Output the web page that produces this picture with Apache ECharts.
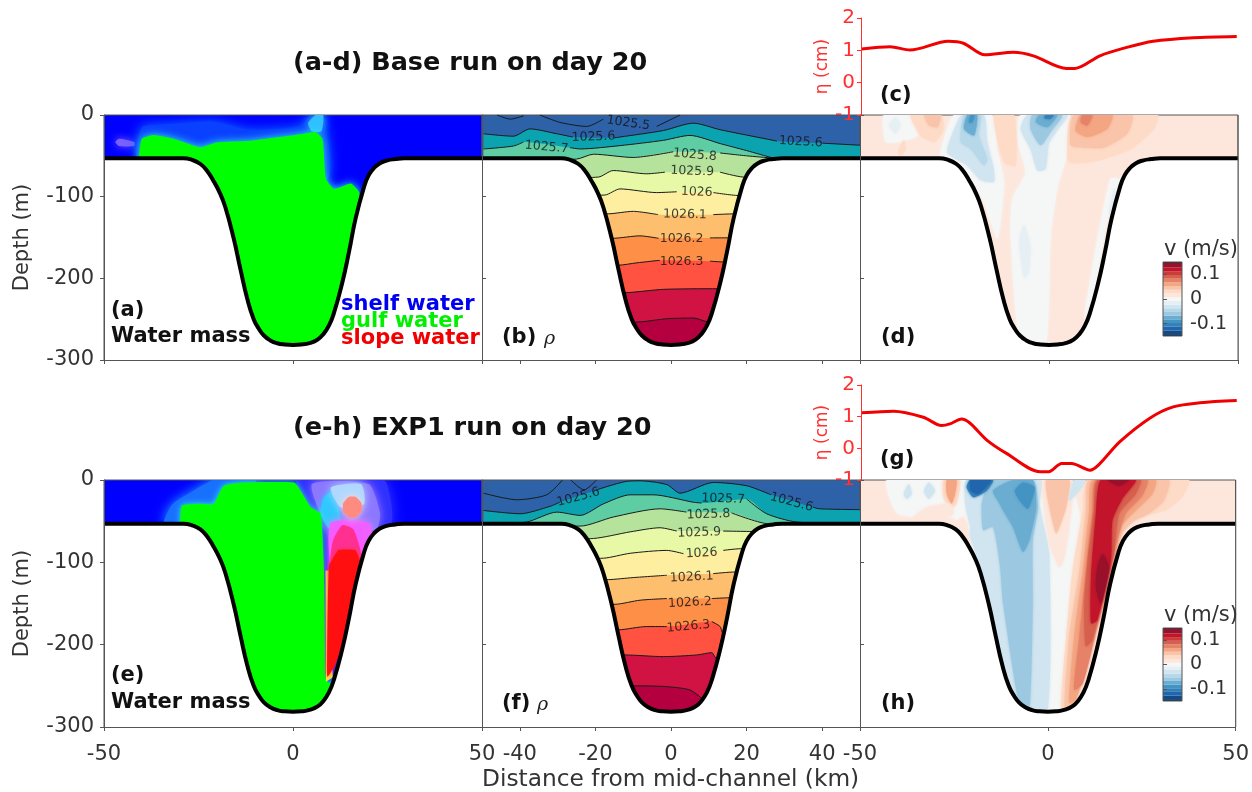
<!DOCTYPE html>
<html>
<head>
<meta charset="utf-8">
<title>Base run and EXP1 run on day 20</title>
<style>
  html, body { margin: 0; padding: 0; background: #fff; }
  #chart { width: 1252px; height: 792px; }
</style>
<script src="https://cdn.jsdelivr.net/npm/echarts@6/dist/echarts.min.js"></script>
</head>
<body>
<div id="chart"></div>
<script>
// channel bottom, [km, depth m]
const bathy = [[-50,53],[-29,53],[-26.7,55],[-24.5,60],[-22.8,68],[-21,81],[-19.4,95],[-17.9,113],[-15.7,151],[-13.9,189],[-12.1,225],[-10.4,250],[-9,262],[-7.7,270],[-6,276],[-4.2,279.5],[-2.2,281],[0,281.5],[2.2,281],[4.6,279],[6.5,275],[8.1,268],[9.5,258],[10.8,243],[13,206],[14.8,168],[16.6,126],[18.8,88],[20,74],[21.4,65],[23,59],[25,55.5],[27,54],[29.4,53],[50,53]];

// surface elevation, [km, cm]
const etaBase = [[-49.8,1.04],[-42.3,1.11],[-37,1.01],[-26.9,1.28],[-22.9,1.22],[-17.2,0.86],[-9.7,0.94],[-4.4,0.83],[4.4,0.44],[6.6,0.44],[13.2,0.83],[20.3,1.09],[27.3,1.28],[37.9,1.39],[49.4,1.43]];
const etaExp1 = [[-49.8,1.12],[-41.4,1.17],[-33.5,0.98],[-28.7,0.72],[-26.5,0.77],[-23.4,0.93],[-21.2,0.8],[-16.8,0.27],[-11.5,-0.16],[-2.6,-0.74],[-0.4,-0.74],[3.1,-0.48],[5.7,-0.48],[10.6,-0.69],[12.8,-0.53],[18.5,0.21],[26.5,0.96],[32.6,1.31],[39.7,1.44],[49.4,1.51]];

// density contours, [km, depth m], null = gap for the inline label
const rhoB25_5 = [[-46,0],[-42.5,5],[-39,1],null,[-34.7,0],[-29.4,9],[-22.3,14],[-17.9,5],null,[-3.8,14],[2.4,0]];
const rhoB25_6 = [[-49.6,23],[-41.7,26],[-37.3,17],[-30.2,23],[-26,27],null,[-15,28],[-13.5,27],[-2,19],[5.9,10],[13,18],[27,31],[28,32],null,[40,34.5],[50,37]];
const rhoB25_7 = [[-49.6,41.6],[-41.7,38],[-39,33],null,[-26.7,40],[-24,41.6],[-13.5,37.5],[-2,31],[5,25],[13,35],[20,43.6],[27,52.6],[28.8,53.5],[50,54]];
const rhoB25_8 = [[-50,56],[-25,54],[-20.5,48],[-10,52],[0.6,45],null,[13,46.5],[20,50],[27,52.6],[50,56]];
const rhoB25_9 = [[-50,80],[-19.2,76],[-15.3,68],[-6.4,72],[-1.6,70],null,[13,70],[19.1,76],[50,80]];
const rhoB26_0 = [[-50,100],[-17.5,98],[-13.5,90.5],[-3.8,95],[1.5,94],null,[11.2,95],[17.8,98.6],[50,100]];
const rhoB26_1 = [[-50,122],[-16.6,121],[-10,118],[-3.4,122],null,[11.2,122],[17,121],[50,122]];
const rhoB26_2 = [[-50,152],[-15.3,151],[-8.2,148],[-3.3,151],null,[10.3,150.5],[15.6,150.4],[50,150]];
const rhoB26_3 = [[-50,185],[-14,184],[-9,181],[-3,178],null,[10.3,179],[14.3,180],[50,180]];
const rhoB26_4 = [[-50,218],[-12.4,217.6],[-2,213.5],[12.5,212.7],[50,213]];
const rhoB26_5 = [[-50,254],[-9,253.5],[-1,249.4],[6,248.6],[10,253.5],[50,254]];

const rhoF25_5 = [[-49.6,16],[-40.8,24],[-32.9,18],[-28.7,0],null,[-26.5,0],[-23,12],[-19.7,0]];
const rhoF25_6 = [[-49.6,37],[-39.9,41],[-32,32],[-29.4,27],null,[-19.7,12],[-11.7,1.6],[-8.2,1],[-1.1,5.6],[2.4,16],[11.2,3],[20,7],[26.5,18],null,[37.5,33],[39.4,35],[50,36]];
const rhoF25_7 = [[-50,54],[-38.2,51],[-30.2,39],[-24,43],[-17.9,29],[-10.8,18],[-4.7,18],[5.9,27],[8.1,28],null,[20,23],[25.3,41],[33.2,51],[50,54]];
const rhoF25_8 = [[-50,56],[-24,56],[-15.3,45],[-2.9,35],[4.1,39],null,[16,40],[25.3,53],[50,56]];
const rhoF25_9 = [[-50,75],[-20.5,71],[-10.8,63],[-2.9,58],[1.5,62],null,[13.8,62],[20,62.5],[50,65]];
const rhoF26_0 = [[-50,98],[-17.9,95],[-10.8,89],[-1.1,85.5],[3.3,89.5],null,[13.8,85.5],[18.3,83.5],[50,84]];
const rhoF26_1 = [[-50,122],[-16.6,121],[-10,118.5],[-1.1,115.7],null,[11.2,113.7],[16.9,111.7],[50,112]];
const rhoF26_2 = [[-50,152],[-14.8,151],[-8.2,146],[-1.1,144],null,[10.8,144],[16,143],[50,145]];
const rhoF26_3 = [[-50,184],[-13.9,182],[-6.4,178],[-1.1,178],null,[10.8,172],[13,178],[13.8,186],[50,190]];
const rhoF26_4 = [[-50,214],[-12.2,212.5],[-2,214.5],[6.8,212.5],[10.8,209.7],[12,216.5],[50,220]];
const rhoF26_5 = [[-50,252],[-9,250],[-1.1,251],[5,255],[8.1,265],[12,280],[50,290]];

// inline contour labels
const rhoBLabels = ['1025.5','1025.6','1025.6','1025.7','1025.8','1025.9','1026','1026.1','1026.2','1026.3'];
const rhoBLabelAt = [[-11.3,10],[-20.5,27],[34.3,33],[-32.9,39.5],[6.3,49],[5.6,69],[6.8,94.5],[3.7,122],[2.8,151],[2.8,180]];
const rhoFLabels = ['1025.6','1025.7','1025.6','1025.8','1025.9','1026','1026.1','1026.2','1026.3'];
const rhoFLabelAt = [[-24.5,21],[13.8,23],[31.9,27],[9.9,42],[7.5,64],[8.1,89],[5.5,118],[5,149],[4.6,178]];

// water mass regions, [km, depth m]
const waterAGlow = [[-41,53],[-40,15],[-35,12],[-21,8],[-12,18],[2,14],[5,0],[8,0],[9,78],[-20,80]];
const waterAGreen = [[-40.8,52],[-40,29],[-36.9,24.4],[-31.6,29],[-24.5,39.5],[-20,33.4],[-11.2,31.4],[2.9,23],[6,21],[7.8,29],[8.7,78],[10.9,90.5],[15.3,84],[17.5,94.5],[17.5,115],[14,300],[-20,300],[-40.8,60]];
const waterASpot = [[4,10],[6,0],[8,0],[7.5,20],[5,20]];
const waterAPink = [[-47,33],[-46,29],[-42,33],[-42,38],[-46,38]];
const waterELeft = [[-34,53],[-32,30],[-27,15],[-21,0],[-10,0],[-10,50]];
const waterEHalo = [[1,0],[24,0],[26,29],[26,53],[16,110],[8,60]];
const waterEViolet = [[5,5],[20,5],[23,40],[22,60],[10,60]];
const waterECyan = [[8.2,21],[10.9,13],[12.6,53],[10,61],[7.3,41]];
const waterEPale = [[10,9],[18,5],[18.8,29],[12.6,33]];
const waterEGreen = [[-29.8,53],[-29.4,31],[-25.4,29],[-21,29],[-18.3,7],[-13,3],[0.3,3],[2,13],[4.7,33],[7.3,41],[8.2,110],[8.7,243],[10,247],[15,200],[8,285],[-30,285]];
const waterEYellow = [[8.6,110],[8.7,245],[10.5,240],[10,110]];
const waterEMagenta = [[10,52],[20,52],[21,75],[17,115],[10.5,115]];
const waterEPink = [[10.5,75],[13,55],[16,60],[18,90],[17,115],[10,115]];
const waterERed = [[9.5,105],[9.1,239],[10.9,227],[12.6,206],[15.3,158],[18,102],[16.5,85],[12,85]];
const waterESalmon = [[13.2,33],[14,24],[15.7,20],[17.4,24],[18.2,33],[17.4,42],[15.7,46],[14,42]];

// velocity regions, [level m/s, [km, depth m]...]
const velBase = [
  [0, [[-7.5,0],[5.7,0],[4.9,46],[2.2,90],[0.4,152],[-0.9,282],[-7.5,282],[-10.1,152],[-9.7,103],[-6.2,70],[-8.4,29]]],
  [0, [[-28.7,54],[-27.8,29],[-25.1,0],[-15,0],[-13.7,42],[-11.9,82],[-12.8,131],[-13.7,152],[-17.6,103],[-21.6,74]]],
  [0, [[-43.2,33],[-43.7,0],[-36.6,0],[-34.8,25],[-40,33]]],
  [0, [[9.3,249],[12.8,152],[16.3,78],[19,80],[15.4,131],[11.9,217]]],
  [-0.015, [[-42.3,13],[-40.6,3],[-39.2,13],[-40.6,23]]],
  [-0.015, [[15.9,119],[17.2,90],[17.9,95],[16.3,127]]],
  [-0.015, [[-7.9,152],[-6.6,135],[-4.9,160],[-5.3,192],[-6.6,200]]],
  [0.03, [[-40,46],[-38.4,31],[-37.9,42],[-39.2,50]]],
  [0.03, [[-14.6,0],[-9.3,0],[-8.8,62],[-11.9,58]]],
  [0.03, [[-36.6,0],[-28.7,0],[-27.8,17],[-30.4,33],[-34,25]]],
  [0.045, [[-33,0],[-28.7,0],[-29.5,15],[-31.7,13]]],
  [-0.03, [[-26.9,46],[-24.3,9],[-23,0],[-17.2,0],[-16.3,33],[-14.6,66],[-14.6,82],[-18,80],[-21.6,62]]],
  [-0.045, [[-23.4,33],[-22.5,0],[-18,0],[-18.5,25],[-16.3,54],[-17.2,62],[-20.7,42]]],
  [-0.075, [[-22.5,17],[-21.6,0],[-19,0],[-19.8,25]]],
  [-0.09, [[-21.2,9],[-20.7,0],[-19.7,0],[-20.3,9]]],
  [-0.03, [[-7.5,17],[-5.7,0],[4.9,0],[2.2,19],[0,35],[-0.9,66],[-3.1,68],[-4.9,42]]],
  [-0.06, [[-4.9,17],[-4.4,0],[3.5,0],[0.4,21],[-2.2,37]]],
  [-0.075, [[-3.5,9],[-2.6,0],[2.2,0],[-0.4,15]]],
  [-0.105, [[-1.3,4],[-0.9,0],[1.3,0],[0.3,5]]],
  [0.03, [[5.3,58],[4.9,29],[6.2,0],[28.7,0],[27.8,17],[21.6,42],[12.8,56]]],
  [0.045, [[5.7,37],[6.6,0],[22,0],[20.7,23],[14.6,40],[9.3,40]]],
  [0.06, [[7,19],[8.4,0],[16.8,0],[15.4,17],[10.1,27]]],
  [0.075, [[8.4,9],[8.8,0],[11.5,0],[10.1,13]]]
];
const velExp1 = [
  [0, [[-42.8,0],[-21.6,0],[-21.2,49],[-25.1,45],[-34.8,45],[-40,41],[-41.9,25]]],
  [0, [[-21.2,57],[-25.1,45],[-21.6,0],[4.9,0],[10.1,90],[8.4,190],[4.9,279],[-11,279],[-16.3,150],[-19.8,98]]],
  [-0.03, [[-20.7,57],[-22,29],[-21.6,0],[-1.8,0],[-2.2,29],[0.4,90],[0,279],[-5.7,279],[-11,255],[-15.4,150],[-18.5,98],[-20.7,69]]],
  [-0.06, [[-17.2,61],[-17.6,29],[-16.3,9],[-14.6,0],[-4,0],[-2.6,33],[-4,73],[-4,150],[-4.9,279],[-7.5,275],[-11.9,150],[-12.8,102],[-14.6,57]]],
  [-0.075, [[-12.8,29],[-14.6,13],[-9.3,0],[-4,0],[-3.1,33],[-4.9,73],[-6.6,87.5],[-9.3,57],[-11.9,37]]],
  [-0.09, [[-8.8,13],[-6.6,3],[-3.5,9],[-5.3,35],[-7.5,25]]],
  [-0.105, [[-21.6,9],[-20.7,0],[-14.6,0],[-16.3,13],[-19.8,21]]],
  [-0.12, [[-20.5,0],[-15,0],[-18.5,17],[-20.5,13]]],
  [-0.03, [[-38.4,17],[-37,5],[-36.2,17],[-37.5,23]]],
  [-0.03, [[-33,13],[-31.7,3],[-30,13],[-31.7,23]]],
  [0.03, [[-27.8,21],[-27.8,0],[-23.4,0],[-24.3,29],[-26,35]]],
  [0.06, [[-26.9,17],[-26.9,0],[-24.3,0],[-24.7,17],[-25.6,29]]],
  [0.015, [[-36.6,49],[-32.2,33],[-26,29],[-25.1,41],[-30.4,51]]],
  [0.015, [[-24.3,51],[-22.5,45],[-21.2,57]]],
  [0.015, [[-1.3,0],[6.6,0],[5.7,57],[4.4,94],[3.1,106],[0.4,77]]],
  [0.045, [[-0.4,0],[5.7,0],[4.9,33],[3.1,57],[2.2,65],[0.4,33]]],
  [-0.03, [[5.7,25],[7,0],[10.1,0],[8.4,13]]],
  [0.03, [[37.5,0],[35.7,21],[31.3,37],[24.3,45],[19.8,67],[16.8,118],[12.3,190],[8.4,255],[5.7,279],[3.5,279],[4.9,190],[6.6,110],[9.3,37],[10.6,0]]],
  [0.045, [[32.2,0],[30.9,25],[26.9,41],[22.5,51],[19.8,65],[16.8,118],[12.3,190],[8.4,255],[5.7,279],[4.4,279],[5.7,190],[8.4,110],[10.1,37],[11,0]]],
  [0.06, [[28.7,0],[27.8,17],[24.3,33],[19.8,55],[17.2,110],[11.9,198],[7.5,267],[5.7,271],[7,190],[9.3,110],[11,37],[11.9,0]]],
  [0.075, [[26.5,0],[25.1,19],[20.7,41],[18,81],[11.9,202],[9.3,247],[7,255],[8.4,190],[10.1,114],[11.9,37],[12.8,0]]],
  [0.09, [[24.7,0],[23.4,17],[19,41],[17.6,90],[11.9,194],[10.1,202],[9.7,150],[10.6,98],[12.3,37],[13.2,0]]],
  [0.12, [[23.4,0],[19.8,23],[17.2,49],[16.8,98],[13.2,170],[11.5,174],[11.5,118],[12.8,41],[14.1,0]]],
  [0.135, [[15.9,0],[19,7],[21.6,0]]],
  [0.135, [[14.6,90],[16.3,106],[14.1,150],[12.8,130],[13.2,106]]]
];

// RdBu colour bar bands
const vLevels = [-0.15,-0.135,-0.12,-0.105,-0.09,-0.075,-0.06,-0.045,-0.03,-0.015,0,0.015,0.03,0.045,0.06,0.075,0.09,0.105,0.12,0.135,0.15];
const vColors = ['#053061','#134b87','#2166ac','#3480b9','#4393c3','#6bacd1','#9cc9e1','#b7d8e9','#d1e5f0','#e6eff4','#f5f6f6','#fde7dd','#fddbc7','#f9c4a9','#f4a582','#e58268','#d6604d','#cb3b3b','#c2152c','#98102a','#67001f'];
const rhoColors = ['#2d62a9','#0ba3b0','#5fcda4','#b6e39b','#e7f8a6','#fdeea0','#fdbe6e','#fe8f47','#ff5240','#d01343','#b50040'];

const font = 'DejaVu Sans';
const axisGray = '#555';
const textGray = '#333';

const panel = (left, top) => ({ left, top, width: 378, height: 245, show: true, borderColor: axisGray, borderWidth: 1 });
const grids = [
  { ...panel(104, 115), backgroundColor: '#0000ff' },
  { ...panel(482, 115), backgroundColor: rhoColors[0] },
  { ...panel(860, 115), backgroundColor: vColors[11] },
  { ...panel(104, 480), height: 247, backgroundColor: '#0000ff' },
  { ...panel(482, 480), height: 247, backgroundColor: rhoColors[0] },
  { ...panel(860, 480), height: 247, backgroundColor: vColors[11] },
  { left: 861, top: 18, width: 378, height: 97 },
  { left: 861, top: 385, width: 378, height: 95 },
  { left: 1163, top: 262, width: 19, height: 74 },
  { left: 1163, top: 628, width: 19, height: 73 }
];

const xTicksEnds = [-50, 0, 50];
const xTicksMid = [-40, -20, 0, 20, 40];
const xAxis = grids.map((g, i) => {
  if (i >= 6) return { type: 'value', gridIndex: i, min: i >= 8 ? 0 : -50, max: i >= 8 ? 1 : 50, show: false };
  const ticks = i % 3 === 1 ? xTicksMid : xTicksEnds;
  return {
    type: 'value', gridIndex: i, min: -50, max: 50, z: 10, splitLine: { show: false },
    axisLine: { show: true, onZero: false, lineStyle: { color: axisGray } },
    axisTick: { show: true, length: 4, customValues: ticks, lineStyle: { color: axisGray } },
    axisLabel: { show: i >= 3, customValues: ticks, fontFamily: font, fontSize: 21, color: textGray, margin: 17, hideOverlap: false }
  };
});
const yAxis = grids.map((g, i) => {
  if (i < 6) return {
    type: 'value', gridIndex: i, min: -300, max: 0, interval: 100, z: 10, splitLine: { show: false },
    name: i % 3 === 0 ? 'Depth (m)' : '', nameLocation: 'middle', nameGap: 71, nameRotate: 90,
    nameTextStyle: { color: textGray, fontFamily: font, fontSize: 21 },
    axisLine: { show: true, onZero: false, lineStyle: { color: axisGray } },
    axisTick: { show: true, length: 4, inside: i % 3 !== 0, lineStyle: { color: axisGray } },
    axisLabel: { show: i % 3 === 0, fontFamily: font, fontSize: 21, color: textGray, margin: 10 }
  };
  if (i < 8) return {
    type: 'value', gridIndex: i, min: -1, max: 2, interval: 1, z: 20, splitLine: { show: false },
    name: 'η (cm)', nameLocation: 'middle', nameGap: 26, nameRotate: 90,
    nameTextStyle: { color: '#ff3030', fontFamily: font, fontSize: 17 },
    axisLine: { show: true, onZero: false, lineStyle: { color: '#ff3030' } },
    axisTick: { show: true, length: 4, lineStyle: { color: '#ff3030' } },
    axisLabel: { color: '#ff3030', fontFamily: font, fontSize: 20, margin: 6 }
  };
  return {
    type: 'value', gridIndex: i, min: -0.15, max: 0.15, position: 'right', z: 20, splitLine: { show: false },
    axisLine: { show: false },
    axisTick: { show: true, length: 4, customValues: [-0.1, 0, 0.1], lineStyle: { color: axisGray } },
    axisLabel: { customValues: [-0.1, 0, 0.1], fontFamily: font, fontSize: 19, color: textGray, margin: 8 }
  };
});

const negate = pts => pts.map(p => (p ? [p[0], -p[1]] : ['-', '-']));
const series = [];

// polygons drawn through the axis scales, each item {pts, fill, blur, glow}
function addPolys(g, items, z) {
  series.push({
    type: 'custom', xAxisIndex: g, yAxisIndex: g, z, clip: true, silent: true,
    data: items.map((_, i) => [i, 0]),
    renderItem(params, api) {
      const it = items[params.dataIndex];
      return {
        type: 'polygon',
        shape: { points: it.pts.map(p => api.coord([p[0], -p[1]])), smooth: it.smooth == null ? 0.2 : it.smooth },
        style: { fill: it.fill, shadowBlur: it.blur || 0, shadowColor: it.glow || 'transparent' }
      };
    }
  });
}

function addChannel(g) {
  series.push({
    type: 'line', xAxisIndex: g, yAxisIndex: g, z: 8, symbol: 'none', smooth: 0.5, silent: true, clip: false,
    data: negate(bathy),
    lineStyle: { color: '#000', width: 4 },
    areaStyle: { color: '#fff', opacity: 1, origin: 'start' }
  });
}

function addRho(g, contours, extra, labels, labelAt, rots) {
  contours.forEach((c, i) => {
    series.push({
      type: 'line', xAxisIndex: g, yAxisIndex: g, z: 3, symbol: 'none', smooth: 0.25, silent: true,
      data: negate(c.filter(Boolean)), lineStyle: { width: 0 },
      areaStyle: { color: rhoColors[i + 1], opacity: 1, origin: 'start' }
    });
  });
  contours.concat([extra]).forEach(c => {
    series.push({
      type: 'line', xAxisIndex: g, yAxisIndex: g, z: 4, symbol: 'none', smooth: 0.25, silent: true,
      data: negate(c), connectNulls: false, lineStyle: { color: '#1a1a1a', width: 1 }
    });
  });
  series.push({
    type: 'scatter', xAxisIndex: g, yAxisIndex: g, z: 9, symbolSize: 0, silent: true,
    data: labels.map((t, i) => ({
      name: t, value: [labelAt[i][0], -labelAt[i][1]],
      label: { show: true, position: 'inside', formatter: t, rotate: rots[i], fontFamily: font, fontSize: 12.5, color: '#111' }
    }))
  });
}

function velPolys(list) {
  return list.map(b => {
    const fill = vColors[vLevels.indexOf(b[0])];
    return { pts: b[1], fill, blur: 3, glow: fill };
  });
}

// (a) base run water mass
addPolys(0, [
  { pts: waterAPink, fill: '#7a60ff', blur: 8, glow: '#7a60ff' },
  { pts: waterAGlow, fill: '#0a40ff', blur: 12, glow: '#0a70ff' },
  { pts: waterASpot, fill: '#30c0ff', blur: 8, glow: '#30c0ff' },
  { pts: waterAGreen, fill: '#00ff00', blur: 9, glow: '#30f0e0', smooth: 0.15 }
], 2);
addChannel(0);

// (b) base run density
addRho(1, [rhoB25_6, rhoB25_7, rhoB25_8, rhoB25_9, rhoB26_0, rhoB26_1, rhoB26_2, rhoB26_3, rhoB26_4, rhoB26_5], rhoB25_5,
  rhoBLabels, rhoBLabelAt, [-8, 2, -3, -5, -5, -2, -2, -1, 0, 0]);
addChannel(1);

// (d) base run velocity
addPolys(2, velPolys(velBase), 2);
addChannel(2);

// (e) EXP1 water mass
addPolys(3, [
  { pts: waterELeft, fill: '#1870ff', blur: 12, glow: '#20a0ff' },
  { pts: waterEHalo, fill: '#3030ff', blur: 14, glow: '#3c3cff' },
  { pts: waterEViolet, fill: '#8c78ff', blur: 10, glow: '#a080ff' },
  { pts: waterECyan, fill: '#30c8ff', blur: 6, glow: '#30c8ff' },
  { pts: waterEPale, fill: '#b0d8ff', blur: 8, glow: '#b0d8ff' },
  { pts: waterEMagenta, fill: '#f060ff', blur: 8, glow: '#f080ff' },
  { pts: waterEGreen, fill: '#00ff00', blur: 6, glow: '#30f0d0', smooth: 0.15 },
  { pts: waterEYellow, fill: '#ffe040', smooth: 0 },
  { pts: waterEPink, fill: '#ff3090', blur: 8, glow: '#ff50ff' },
  { pts: waterERed, fill: '#ff0f10', smooth: 0.1, blur: 5, glow: '#ff3060' },
  { pts: waterESalmon, fill: '#ff8a80', blur: 9, glow: '#ffd8d8', smooth: 0.6 }
], 2);
addChannel(3);

// (f) EXP1 density
addRho(4, [rhoF25_6, rhoF25_7, rhoF25_8, rhoF25_9, rhoF26_0, rhoF26_1, rhoF26_2, rhoF26_3, rhoF26_4, rhoF26_5], rhoF25_5,
  rhoFLabels, rhoFLabelAt, [15, -2, -15, 2, 2, 3, 3, 3, 5]);
addChannel(4);

// (h) EXP1 velocity
addPolys(5, velPolys(velExp1), 2);
addChannel(5);

// right spine of the last column sits over the white channel mask
[2, 5].forEach(g => {
  series.push({
    type: 'line', xAxisIndex: g, yAxisIndex: g, z: 9, symbol: 'none', silent: true, clip: false,
    data: [[50, 0], [50, -300]], lineStyle: { color: axisGray, width: 1 }
  });
});

// (c) and (g) surface elevation
[[6, etaBase], [7, etaExp1]].forEach(([g, eta]) => {
  series.push({
    type: 'line', xAxisIndex: g, yAxisIndex: g, z: 5, symbol: 'none', smooth: 0.3, silent: true,
    data: eta, lineStyle: { color: '#f00000', width: 3 }
  });
});

// colour bars
[8, 9].forEach(g => {
  series.push({
    type: 'custom', xAxisIndex: g, yAxisIndex: g, z: 12, silent: true, clip: true,
    data: vLevels.map((v, i) => [i, v]),
    renderItem(params, api) {
      const i = params.dataIndex;
      const a = api.coord([0, vLevels[i] + 0.0076]);
      const b = api.coord([1, vLevels[i] - 0.0076]);
      return { type: 'rect', shape: { x: a[0], y: a[1], width: b[0] - a[0], height: b[1] - a[1] }, style: { fill: vColors[i] } };
    }
  });
  series.push({
    type: 'custom', xAxisIndex: g, yAxisIndex: g, z: 13, silent: true, clip: false,
    data: [[0, 0]],
    renderItem(params, api) {
      const a = api.coord([0, 0.15]);
      const b = api.coord([1, -0.15]);
      return { type: 'rect', shape: { x: a[0], y: a[1], width: b[0] - a[0], height: b[1] - a[1] }, style: { fill: 'none', stroke: axisGray, lineWidth: 1 } };
    }
  });
});

const boldText = (left, top, text, fill, fontSize) => ({
  type: 'text', left, top, z: 30, silent: true,
  style: { text, fill: fill || '#111', font: 'bold ' + (fontSize || 21) + 'px "' + font + '"' }
});
const plainText = (left, top, text, fontSize) => ({
  type: 'text', left, top, z: 30, silent: true,
  style: { text, fill: textGray, font: fontSize + 'px "' + font + '"' }
});

const graphic = [
  boldText(293, 50, '(a-d) Base run on day 20', '#111', 25.5),
  boldText(293, 415, '(e-h) EXP1 run on day 20', '#111', 25.5),
  boldText(111, 300, '(a)'),
  boldText(111, 326, 'Water mass'),
  boldText(341, 294, 'shelf water', '#0000f0'),
  boldText(341, 311, 'gulf water', '#00f000'),
  boldText(341, 328, 'slope water', '#f00000'),
  boldText(502, 327, '(b)'),
  { type: 'text', left: 544, top: 330, z: 30, silent: true, style: { text: 'ρ', fill: '#222', font: 'italic 19px "DejaVu Serif"' } },
  boldText(880, 85, '(c)'),
  boldText(881, 327, '(d)'),
  plainText(1164, 239, 'v (m/s)', 21),
  boldText(111, 665, '(e)'),
  boldText(111, 692, 'Water mass'),
  boldText(502, 693, '(f)'),
  { type: 'text', left: 537, top: 696, z: 30, silent: true, style: { text: 'ρ', fill: '#222', font: 'italic 19px "DejaVu Serif"' } },
  boldText(880, 449, '(g)'),
  boldText(881, 693, '(h)'),
  plainText(1164, 605, 'v (m/s)', 21),
  plainText(482, 768, 'Distance from mid-channel (km)', 23.3)
];

const chart = echarts.init(document.getElementById('chart'), null, { renderer: 'canvas' });
chart.setOption({
  animation: false,
  backgroundColor: '#fff',
  tooltip: { show: false },
  grid: grids,
  xAxis,
  yAxis,
  series,
  graphic
});
</script>
</body>
</html>
